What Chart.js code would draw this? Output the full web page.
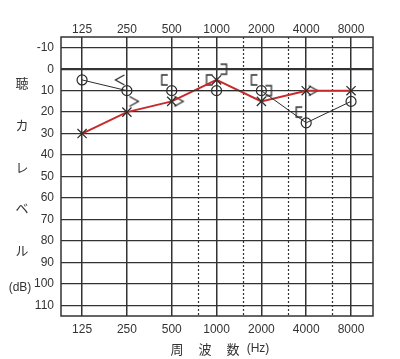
<!DOCTYPE html>
<html lang="ja">
<head>
<meta charset="UTF-8">
<title>オージオグラム</title>
<script src="https://cdn.jsdelivr.net/npm/chart.js"></script>
<style>
    body { margin: 0; background: #fff; }
    #wrap { width: 400px; height: 359px; }
</style>
</head>
<body>
<div id="wrap"><canvas id="audiogram" width="400" height="359"></canvas></div>
<script>
    // 周波数と聴力レベル
    const hz = [125, 250, 500, 1000, 2000, 4000, 8000];
    const hzLabels = ['125', '250', '500', '1000', '2000', '4000', '8000'];
    const halfOctaves = [750, 1500, 3000, 6000];
    const dbTicks = [-10, 0, 10, 20, 30, 40, 50, 60, 70, 80, 90, 100, 110];

    // 気導 (右 ○ / 左 ×)
    const rightAir = [5, 10, 10, 10, 10, 25, 15];
    const leftAir = [30, 20, 15, 5, 15, 10, 10];

    // 骨導
    const rightBoneHz = [250];
    const rightBone = [5];
    const rightBoneMaskHz = [500, 1000, 2000, 4000];
    const rightBoneMask = [5, 5, 5, 20];
    const leftBoneHz = [250, 500, 4000];
    const leftBone = [15, 15, 10];
    const leftBoneMaskHz = [1000, 2000];
    const leftBoneMask = [0, 10];

    const oct = f => Math.log2(f / 125);
    const pts = (fs, vs) => fs.map((f, i) => ({ x: oct(f), y: vs[i] }));

    const numFont = "'Liberation Sans Narrow', 'Liberation Sans', sans-serif";
    const jpFont = "'Noto Sans CJK JP', sans-serif";
    const ink = '#2b2b2b';

    // 骨導記号 (< > [ ]) を小さなキャンバスで作る
    function symbol(kind) {
        const c = document.createElement('canvas');
        c.width = 32; c.height = 16;
        const g = c.getContext('2d');
        g.strokeStyle = ink;
        g.lineWidth = 1.3;
        const left = kind === '<' || kind === '[';
        const cx = left ? 16 - 7 : 16 + 7;
        const s = left ? 1 : -1;
        g.beginPath();
        if (kind === '<' || kind === '>') {
            g.moveTo(cx + 4.5 * s, 3); g.lineTo(cx - 4.5 * s, 8); g.lineTo(cx + 4.5 * s, 13);
        } else {
            g.moveTo(cx + 3 * s, 3); g.lineTo(cx - 3 * s, 3); g.lineTo(cx - 3 * s, 13); g.lineTo(cx + 3 * s, 13);
        }
        g.stroke();
        return c;
    }

    // 半オクターブの点線と枠線、軸タイトル
    const frame = {
        id: 'frame',
        beforeDatasetsDraw(chart) {
            const { ctx, chartArea: a, scales } = chart;
            ctx.save();
            ctx.strokeStyle = '#333';
            ctx.lineWidth = 1.2;
            ctx.setLineDash([2, 2]);
            halfOctaves.forEach(f => {
                const x = Math.round(scales.x.getPixelForValue(oct(f))) + 0.5;
                ctx.beginPath();
                ctx.moveTo(x, a.top);
                ctx.lineTo(x, a.bottom);
                ctx.stroke();
            });
            ctx.setLineDash([]);
            ctx.lineWidth = 1.5;
            ctx.strokeRect(a.left, a.top, a.right - a.left, a.bottom - a.top);
            ctx.restore();
        },
        afterDraw(chart) {
            const ctx = chart.ctx;
            ctx.save();
            ctx.fillStyle = '#333';
            ctx.textAlign = 'center';
            ctx.textBaseline = 'middle';
            ctx.font = '13px ' + jpFont;
            [['聴', 83], ['カ', 125], ['レ', 167], ['ベ', 208], ['ル', 250]].forEach(([t, y]) => ctx.fillText(t, 22, y));
            ctx.font = '12px ' + numFont;
            ctx.fillText('(dB)', 20, 288);
            ctx.font = '13px ' + jpFont;
            [['周', 177], ['波', 205], ['数', 233]].forEach(([t, x]) => ctx.fillText(t, x, 349));
            ctx.font = '12px ' + numFont;
            ctx.fillText('(Hz)', 258, 349);
            ctx.restore();
        }
    };

    const xRange = { min: -0.47, max: 6.49 };
    const octTicks = scale => { scale.ticks = hz.map(f => ({ value: oct(f) })); };
    const hzLabel = v => hzLabels[Math.round(v)];
    const tickFont = { family: numFont, size: 12 };

    new Chart(document.getElementById('audiogram'), {
        type: 'scatter',
        data: {
            datasets: [
                {
                    label: '右 気導',
                    data: pts(hz, rightAir),
                    showLine: true,
                    borderColor: ink,
                    borderWidth: 1,
                    pointStyle: 'circle',
                    pointRadius: 5,
                    pointBorderColor: ink,
                    pointBorderWidth: 1.2,
                    pointBackgroundColor: 'rgba(0,0,0,0)'
                },
                {
                    label: '左 気導',
                    data: pts(hz, leftAir),
                    showLine: true,
                    borderColor: '#c62a2a',
                    borderWidth: 2,
                    pointStyle: 'crossRot',
                    pointRadius: 6.5,
                    pointBorderColor: ink,
                    pointBorderWidth: 1.2
                },
                { label: '右 骨導', data: pts(rightBoneHz, rightBone), pointStyle: symbol('<') },
                { label: '右 骨導 マスク', data: pts(rightBoneMaskHz, rightBoneMask), pointStyle: symbol('[') },
                { label: '左 骨導', data: pts(leftBoneHz, leftBone), pointStyle: symbol('>') },
                { label: '左 骨導 マスク', data: pts(leftBoneMaskHz, leftBoneMask), pointStyle: symbol(']') }
            ]
        },
        options: {
            responsive: false,
            animation: false,
            layout: { padding: { left: 0, right: 27, top: 0, bottom: 0 } },
            plugins: { legend: { display: false }, tooltip: { enabled: false } },
            scales: {
                x: {
                    type: 'linear',
                    position: 'bottom',
                    ...xRange,
                    afterBuildTicks: octTicks,
                    afterFit: s => { s.height = 43; },
                    grid: { color: '#333', lineWidth: 1.5, drawTicks: false },
                    border: { display: false },
                    ticks: { callback: hzLabel, padding: 6, color: '#333', font: tickFont, maxRotation: 0 }
                },
                xTop: {
                    type: 'linear',
                    position: 'top',
                    ...xRange,
                    afterBuildTicks: octTicks,
                    afterFit: s => { s.height = 37; },
                    grid: { display: false, drawTicks: false },
                    border: { display: false },
                    ticks: { callback: hzLabel, padding: 0, color: '#333', font: tickFont, maxRotation: 0 }
                },
                y: {
                    type: 'linear',
                    reverse: true,
                    min: -15,
                    max: 115,
                    afterBuildTicks: s => { s.ticks = dbTicks.map(v => ({ value: v })); },
                    afterFit: s => { s.width = 61; },
                    grid: {
                        color: '#333',
                        lineWidth: c => (c.tick && c.tick.value === 0 ? 2.2 : 1.3),
                        drawTicks: false
                    },
                    border: { display: false },
                    ticks: { padding: 7, color: '#333', font: tickFont }
                }
            }
        },
        plugins: [frame]
    });
</script>
</body>
</html>
